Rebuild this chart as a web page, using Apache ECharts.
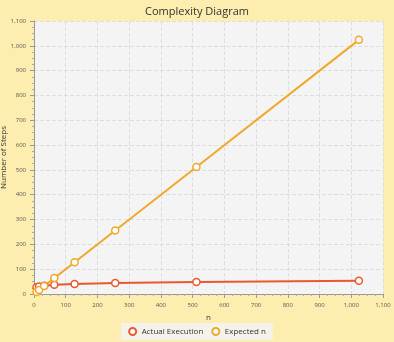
<!DOCTYPE html>
<html>
<head>
<meta charset="utf-8">
<script src="https://cdn.jsdelivr.net/npm/echarts@6/dist/echarts.min.js"></script>
<style>
html, body { margin: 0; padding: 0; background: #fdeeb0; }
#chart { width: 394px; height: 342px; }
</style>
</head>
<body>
<div id="chart"></div>
<script>
// input sizes n
var sizes = [8, 16, 32, 64, 128, 256, 512, 1024];
// measured steps
var actualSteps = [27, 30, 33, 37, 40, 44, 48, 53];
// expected O(n)
var expectedSteps = [8, 16, 32, 64, 128, 256, 512, 1024];

var redColor = '#e85a2c';
var orangeColor = '#f0a82a';

function pairs(xs, ys) {
    var out = [];
    for (var i = 0; i < xs.length; i++) out.push([xs[i], ys[i]]);
    return out;
}

var fmt = function (v) { return v.toLocaleString('en-US'); };

var myChart = echarts.init(document.getElementById('chart'));
var option = {
    backgroundColor: '#fdeeb0',
    animation: false,
    textStyle: { fontFamily: 'Open Sans' },
    title: {
        text: 'Complexity Diagram',
        left: 'center',
        top: 1,
        textStyle: { fontSize: 11, fontWeight: 'normal', color: '#333' }
    },
    legend: {
        bottom: 2,
        left: 'center',
        itemWidth: 8,
        itemHeight: 7,
        itemGap: 8,
        padding: [4, 7],
        backgroundColor: '#f5f2ea',
        textStyle: { fontSize: 8, color: '#333' },
        data: [
            { name: 'Actual Execution', icon: 'emptyCircle',
              itemStyle: { color: redColor, borderColor: redColor, borderWidth: 1.5 } },
            { name: 'Expected n', icon: 'emptyCircle',
              itemStyle: { color: orangeColor, borderColor: orangeColor, borderWidth: 1.5 } }
        ]
    },
    grid: {
        left: 34,
        right: 11,
        top: 21,
        bottom: 48,
        outerBoundsMode: 'none',
        containLabel: false,
        show: true,
        backgroundColor: '#f4f4f4',
        borderWidth: 0
    },
    xAxis: {
        type: 'value',
        min: 0,
        max: 1100,
        interval: 100,
        name: 'n',
        nameLocation: 'middle',
        nameGap: 20,
        nameTextStyle: { fontSize: 8, color: '#333' },
        axisLine: { lineStyle: { color: '#999' } },
        axisTick: { length: 4, lineStyle: { color: '#999' } },
        minorTick: { show: true, splitNumber: 4, length: 2, lineStyle: { color: '#aaa' } },
        axisLabel: { fontSize: 6, color: '#555', formatter: fmt },
        splitLine: { lineStyle: { color: '#dedede', type: 'dashed' } }
    },
    yAxis: {
        type: 'value',
        min: 0,
        max: 1100,
        interval: 100,
        name: 'Number of Steps',
        nameLocation: 'middle',
        nameGap: 26,
        nameMoveOverlap: false,
        nameTextStyle: { fontSize: 8, color: '#333' },
        axisLine: { show: true, lineStyle: { color: '#999' } },
        axisTick: { show: true, length: 4, lineStyle: { color: '#999' } },
        minorTick: { show: true, splitNumber: 4, length: 2, lineStyle: { color: '#aaa' } },
        axisLabel: { fontSize: 6, color: '#555', formatter: fmt },
        splitLine: { lineStyle: { color: '#dedede', type: 'dashed' } }
    },
    series: [
        {
            name: 'Actual Execution',
            type: 'line',
            data: pairs(sizes, actualSteps),
            symbol: 'circle',
            symbolSize: 7,
            color: redColor,
            lineStyle: { width: 2, color: redColor },
            itemStyle: { color: '#fff', borderColor: redColor, borderWidth: 1.5 }
        },
        {
            name: 'Expected n',
            type: 'line',
            data: pairs(sizes, expectedSteps),
            symbol: 'circle',
            symbolSize: 7,
            color: orangeColor,
            lineStyle: { width: 2, color: orangeColor },
            itemStyle: { color: '#fff', borderColor: orangeColor, borderWidth: 1.5 }
        }
    ]
};
option && myChart.setOption(option);
</script>
</body>
</html>
